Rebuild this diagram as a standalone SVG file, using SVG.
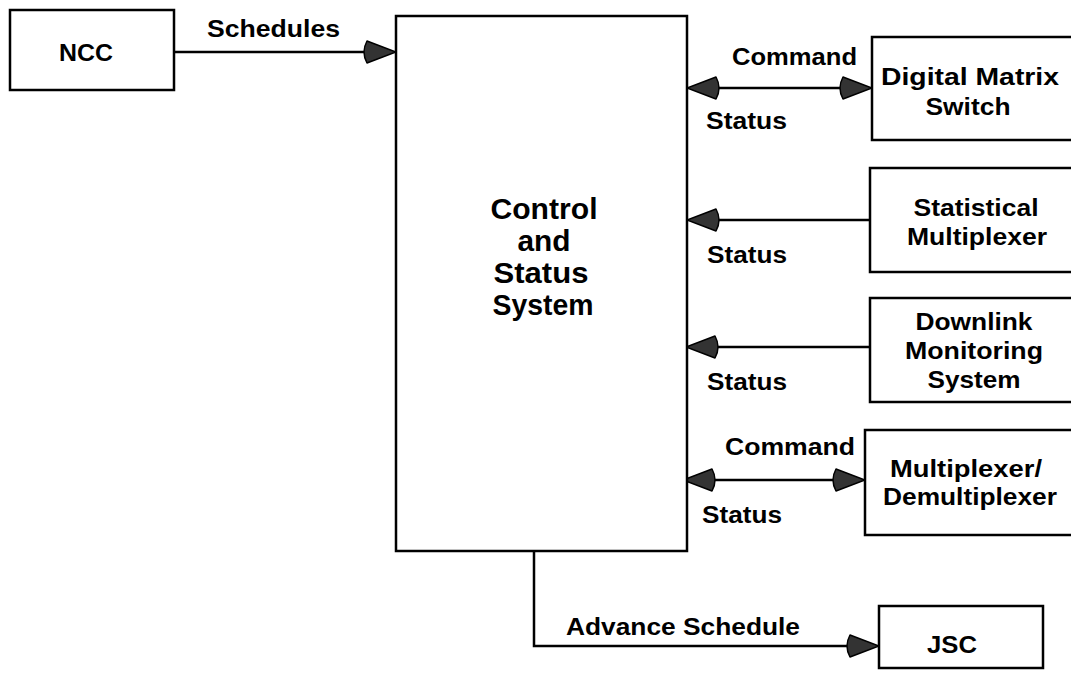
<svg xmlns="http://www.w3.org/2000/svg" width="1071" height="682" viewBox="0 0 1071 682">
<style>
.box{fill:#fff;stroke:#000;stroke-width:2.5}
.ln{fill:none;stroke:#000;stroke-width:2.5}
text{font-family:"Liberation Sans",Arial,Helvetica,sans-serif;font-weight:bold;fill:#000}
.lb{font-size:23px}
.nd{font-size:23px;text-anchor:middle}
.big{font-size:29px;text-anchor:middle}
</style>
<defs>
<marker id="ah" viewBox="0 0 34 24" refX="30" refY="12" markerWidth="34" markerHeight="24" markerUnits="userSpaceOnUse" orient="auto-start-reverse">
<path d="M34,12 L5,1 Q-1,12 5,23 Z" fill="#333" stroke="#000" stroke-width="1.5" stroke-linejoin="round"/>
</marker>
</defs>
<rect width="1071" height="682" fill="#fff"/>
<g id="connectors">
<path class="ln" d="M174,52 H392" marker-end="url(#ah)"/>
<path class="ln" d="M691,88 H868" marker-start="url(#ah)" marker-end="url(#ah)"/>
<path class="ln" d="M870,220 H691" marker-end="url(#ah)"/>
<path class="ln" d="M870,347 H690" marker-end="url(#ah)"/>
<path class="ln" d="M687,480 H861" marker-start="url(#ah)" marker-end="url(#ah)"/>
<path class="ln" d="M534,551 V646 H875" marker-end="url(#ah)"/>
<text class="lb" x="207" y="37" textLength="133" lengthAdjust="spacingAndGlyphs">Schedules</text>
<text class="lb" x="732" y="65" textLength="125" lengthAdjust="spacingAndGlyphs">Command</text>
<text class="lb" x="706" y="129" textLength="81" lengthAdjust="spacingAndGlyphs">Status</text>
<text class="lb" x="707" y="263" textLength="80" lengthAdjust="spacingAndGlyphs">Status</text>
<text class="lb" x="707" y="390" textLength="80" lengthAdjust="spacingAndGlyphs">Status</text>
<text class="lb" x="725" y="455" textLength="130" lengthAdjust="spacingAndGlyphs">Command</text>
<text class="lb" x="702" y="523" textLength="80" lengthAdjust="spacingAndGlyphs">Status</text>
<text class="lb" x="566" y="635" textLength="234" lengthAdjust="spacingAndGlyphs">Advance Schedule</text>
</g>
<g id="ncc">
<rect class="box" x="10" y="10" width="164" height="80"/>
<text class="nd" x="86" y="61" textLength="54" lengthAdjust="spacingAndGlyphs">NCC</text>
</g>
<g id="css">
<rect class="box" x="396" y="16" width="291" height="535"/>
<text class="big" x="544" y="219" textLength="107" lengthAdjust="spacingAndGlyphs">Control</text>
<text class="big" x="544" y="251" textLength="53" lengthAdjust="spacingAndGlyphs">and</text>
<text class="big" x="541" y="283" textLength="95" lengthAdjust="spacingAndGlyphs">Status</text>
<text class="big" x="543" y="315" textLength="101" lengthAdjust="spacingAndGlyphs">System</text>
</g>
<g id="dms">
<rect class="box" x="872" y="37" width="210" height="103"/>
<text class="nd" x="970" y="85" textLength="178" lengthAdjust="spacingAndGlyphs">Digital Matrix</text>
<text class="nd" x="968" y="115" textLength="85" lengthAdjust="spacingAndGlyphs">Switch</text>
</g>
<g id="statmux">
<rect class="box" x="870" y="168" width="210" height="104"/>
<text class="nd" x="976" y="216" textLength="125" lengthAdjust="spacingAndGlyphs">Statistical</text>
<text class="nd" x="977" y="245" textLength="140" lengthAdjust="spacingAndGlyphs">Multiplexer</text>
</g>
<g id="dlms">
<rect class="box" x="870" y="298" width="210" height="104"/>
<text class="nd" x="974" y="330" textLength="117" lengthAdjust="spacingAndGlyphs">Downlink</text>
<text class="nd" x="974" y="359" textLength="138" lengthAdjust="spacingAndGlyphs">Monitoring</text>
<text class="nd" x="974" y="388" textLength="93" lengthAdjust="spacingAndGlyphs">System</text>
</g>
<g id="muxdemux">
<rect class="box" x="865" y="430" width="215" height="105"/>
<text class="nd" x="966" y="477" textLength="152" lengthAdjust="spacingAndGlyphs">Multiplexer/</text>
<text class="nd" x="970" y="505" textLength="174" lengthAdjust="spacingAndGlyphs">Demultiplexer</text>
</g>
<g id="jsc">
<rect class="box" x="879" y="606" width="164" height="62"/>
<text class="nd" x="952" y="653" textLength="50" lengthAdjust="spacingAndGlyphs">JSC</text>
</g>
</svg>
